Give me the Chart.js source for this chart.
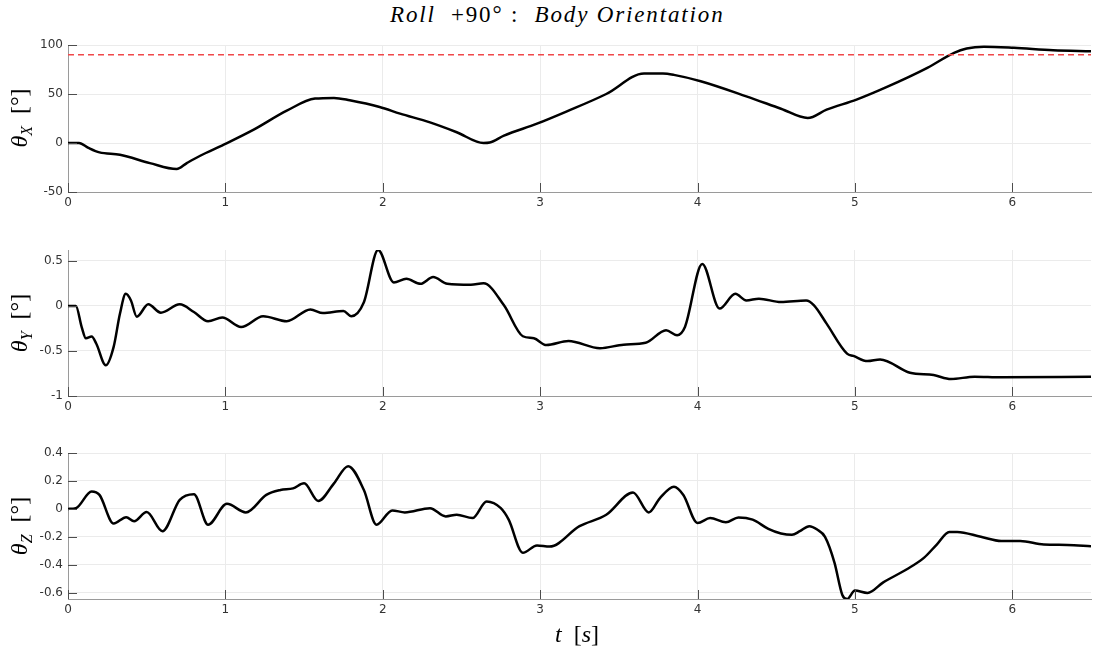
<!DOCTYPE html>
<html>
<head>
<meta charset="utf-8">
<script src="https://cdn.jsdelivr.net/npm/chart.js@4.4.0/dist/chart.umd.min.js"></script>
<style>
    body { margin: 0; background: #fff; width: 1094px; height: 648px; position: relative; overflow: hidden; }
    canvas { position: absolute; left: 0; }
    .titulo { position: absolute; left: 390px; top: 2px; font-family: "Liberation Serif", serif; font-size: 23px; letter-spacing: 1.85px; white-space: pre; color: #000; }
    .rotulo-y { position: absolute; font-family: "Liberation Serif", serif; font-size: 24px; white-space: pre; color: #000;
        transform: translate(-50%, -50%) rotate(-90deg); }
    .rotulo-y sub { font-size: 16px; vertical-align: -5px; }
    .rotulo-x { position: absolute; left: 577px; top: 634px; font-family: "Liberation Serif", serif; font-size: 24px; white-space: pre;
        transform: translate(-50%, -50%); }
</style>
</head>
<body>
<div class="titulo"><i>Roll</i>  +90° :  <i>Body Orientation</i></div>

<canvas id="graficoX" width="1094" height="215" style="top:0px"></canvas>
<canvas id="graficoY" width="1094" height="204" style="top:215px"></canvas>
<canvas id="graficoZ" width="1094" height="203" style="top:419px"></canvas>

<div class="rotulo-y" style="left:21px; top:118px"><i>θ</i><sub><i>X</i></sub>  [°]</div>
<div class="rotulo-y" style="left:21px; top:323px"><i>θ</i><sub><i>Y</i></sub>  [°]</div>
<div class="rotulo-y" style="left:21px; top:526px"><i>θ</i><sub><i>Z</i></sub>  [°]</div>
<div class="rotulo-x"><i>t</i>  [<i>s</i>]</div>

<script>
// tempo [s] e ângulos [graus]
const tempoX = [0, 0.07, 0.13, 0.20, 0.33, 0.52, 0.69, 0.755, 0.84, 0.99, 1.18, 1.39, 1.57, 1.69, 1.79, 1.98, 2.11,
    2.30, 2.47, 2.64, 2.68, 2.77, 2.98, 3.17, 3.42, 3.66, 3.78, 3.85, 4.02, 4.31, 4.53, 4.70, 4.82, 5.01, 5.20,
    5.46, 5.63, 5.71, 5.82, 6.01, 6.26, 6.5];
const thetaX = [0, 0, -5, -9.6, -12, -20.5, -26.6, -20.5, -13, -1.7, 13.6, 33, 45.3, 46, 43.6, 36.8, 30,
    21, 11, 0, 0.5, 7.5, 19.7, 32.3, 50, 70.9, 70.9, 69.5, 63, 47.6, 35, 25.5, 34, 44.3, 57,
    76.7, 92, 96.4, 98.2, 97.1, 94.7, 93.7];
const referenciaX = 90;

const tempoY = [0, 0.05, 0.087, 0.114, 0.15, 0.18, 0.24, 0.29, 0.33, 0.367, 0.40, 0.437, 0.51, 0.59, 0.71, 0.80,
    0.89, 0.98, 1.10, 1.24, 1.39, 1.54, 1.62, 1.75, 1.80, 1.88, 1.97, 2.07, 2.15, 2.24, 2.32, 2.41, 2.56, 2.64,
    2.77, 2.89, 2.96, 3.04, 3.18, 3.38, 3.53, 3.67, 3.80, 3.87, 3.92, 4.03, 4.14, 4.24, 4.31, 4.39, 4.53, 4.69,
    4.74, 4.82, 4.95, 4.99, 5.08, 5.16, 5.35, 5.50, 5.61, 5.76, 5.93, 6.5];
const thetaY = [0, 0, -0.235, -0.36, -0.34, -0.42, -0.66, -0.455, -0.087, 0.134, 0.06, -0.12, 0.017, -0.075, 0.017, -0.068,
    -0.17, -0.13, -0.235, -0.115, -0.17, -0.04, -0.08, -0.057, -0.115, 0.04, 0.62, 0.26, 0.30, 0.245, 0.32, 0.245, 0.234, 0.25,
    0.006, -0.337, -0.36, -0.435, -0.39, -0.47, -0.43, -0.41, -0.27, -0.326, -0.234, 0.466, -0.03, 0.134, 0.06, 0.08, 0.042, 0.06,
    0.006, -0.197, -0.53, -0.555, -0.613, -0.595, -0.742, -0.768, -0.812, -0.786, -0.793, -0.786];

const tempoZ = [0, 0.05, 0.15, 0.20, 0.29, 0.37, 0.42, 0.50, 0.60, 0.71, 0.80, 0.89, 1.01, 1.13, 1.26, 1.35, 1.43,
    1.50, 1.59, 1.69, 1.78, 1.88, 1.96, 2.06, 2.14, 2.30, 2.40, 2.47, 2.57, 2.66, 2.75, 2.80, 2.89, 2.98, 3.06,
    3.25, 3.42, 3.59, 3.69, 3.76, 3.85, 3.91, 4.00, 4.08, 4.18, 4.26, 4.35, 4.45, 4.53, 4.60, 4.65, 4.71, 4.76,
    4.81, 4.87, 4.92, 4.95, 5.00, 5.08, 5.18, 5.33, 5.44, 5.52, 5.60, 5.65, 5.80, 5.93, 6.05, 6.20, 6.35, 6.5];
const thetaZ = [0, 0.005, 0.124, 0.10, -0.105, -0.059, -0.089, -0.023, -0.16, 0.065, 0.105, -0.113, 0.036, -0.025, 0.10, 0.135, 0.147,
    0.183, 0.057, 0.183, 0.306, 0.135, -0.113, -0.011, -0.025, 0.005, -0.054, -0.042, -0.066, 0.053, 0.005, -0.077, -0.314, -0.262, -0.27,
    -0.124, -0.042, 0.117, -0.025, 0.076, 0.159, 0.10, -0.101, -0.066, -0.096, -0.061, -0.077, -0.143, -0.176, -0.186, -0.16, -0.124, -0.148,
    -0.2, -0.384, -0.616, -0.645, -0.585, -0.602, -0.526, -0.432, -0.349, -0.255, -0.165, -0.165, -0.2, -0.23, -0.23, -0.255, -0.258, -0.267];

// limites dos eixos: [min, max, passo]
const tempoMax = 6.5;
const limitesX = [-50, 100, 50];
const limitesY = [-1, 0.62, 0.5];
const limitesZ = [-0.645, 0.4, 0.2];

// marcas dos eixos para dentro da área (estilo MATLAB)
const marcasInternas = {
    id: 'marcasInternas',
    afterDatasetsDraw(chart) {
        const { ctx, chartArea, scales } = chart;
        ctx.save();
        ctx.strokeStyle = '#4d4d4d';
        ctx.lineWidth = 1;
        ctx.beginPath();
        scales.x.ticks.forEach(t => {
            const px = Math.round(scales.x.getPixelForValue(t.value)) + 0.5;
            ctx.moveTo(px, chartArea.bottom);
            ctx.lineTo(px, chartArea.bottom - 9);
        });
        scales.y.ticks.forEach(t => {
            const py = Math.round(scales.y.getPixelForValue(t.value)) + 0.5;
            ctx.moveTo(chartArea.left, py);
            ctx.lineTo(chartArea.left + 9, py);
        });
        ctx.stroke();
        ctx.restore();
    }
};

function pontos(tempo, valores) {
    return tempo.map((t, i) => ({ x: t, y: valores[i] }));
}

// "-1" em vez de "-1.0", "0" em vez de "0.0"
const formatarTick = (v) => String(+v.toFixed(2));

function criarGrafico(id, datasets, limites, padTopo) {
    const ctx = document.getElementById(id).getContext('2d');
    const fonteTicks = { family: 'DejaVu Sans', size: 12 };
    return new Chart(ctx, {
        type: 'line',
        data: { datasets: datasets },
        options: {
            responsive: false,
            animation: false,
            layout: { padding: { top: padTopo, right: 3, left: 0, bottom: 0 } },
            plugins: { legend: { display: false }, tooltip: { enabled: false } },
            elements: { point: { radius: 0 } },
            scales: {
                x: {
                    type: 'linear',
                    min: 0,
                    max: tempoMax,
                    afterFit: (s) => { s.height = 23; },
                    grid: { color: '#ebebeb', drawTicks: false },
                    border: { display: true, color: '#9a9a9a' },
                    ticks: { stepSize: 1, includeBounds: false, padding: 4, color: '#333', font: fonteTicks, maxRotation: 0, callback: formatarTick }
                },
                y: {
                    min: limites[0],
                    max: limites[1],
                    afterFit: (s) => { s.width = 68; },
                    grid: { color: '#ebebeb', drawTicks: false },
                    border: { display: true, color: '#9a9a9a' },
                    ticks: { stepSize: limites[2], includeBounds: false, padding: 5, color: '#333', font: fonteTicks, callback: formatarTick }
                }
            }
        },
        plugins: [marcasInternas]
    });
}

function serie(tempo, valores) {
    return {
        data: pontos(tempo, valores),
        borderColor: '#000',
        borderWidth: 2.5,
        cubicInterpolationMode: 'monotone',
        fill: false
    };
}

// θX com a referência de 90°
criarGrafico('graficoX', [
    {
        data: [{ x: 0, y: referenciaX }, { x: tempoMax, y: referenciaX }],
        borderColor: '#f0484a',
        borderWidth: 1.5,
        borderDash: [6, 4],
        fill: false
    },
    serie(tempoX, thetaX)
], limitesX, 45);

criarGrafico('graficoY', [serie(tempoY, thetaY)], limitesY, 35);
criarGrafico('graficoZ', [serie(tempoZ, thetaZ)], limitesZ, 34);
</script>
</body>
</html>
